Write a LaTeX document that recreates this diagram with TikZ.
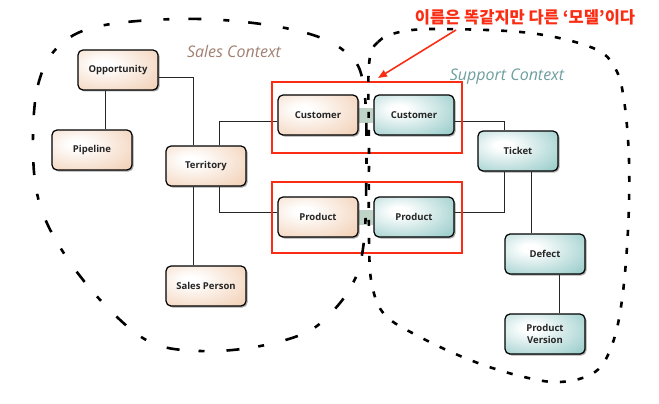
\documentclass[tikz,border=0pt]{standalone}
\usepackage{fontspec}
\setmainfont{Open Sans}
\newfontfamily\krfont{Noto Sans CJK KR}
\usetikzlibrary{shadows,backgrounds,arrows.meta}
\definecolor{salescol}{RGB}{243,212,188}
\definecolor{salesdark}{RGB}{232,188,156}
\definecolor{supcol}{RGB}{160,208,206}
\definecolor{supdark}{RGB}{115,180,178}
\definecolor{annred}{RGB}{250,45,20}
\definecolor{salestxt}{RGB}{160,128,112}
\definecolor{suptxt}{RGB}{110,158,158}
\definecolor{barcol}{RGB}{192,211,199}
\pgfdeclareradialshading{salesshade}{\pgfpoint{-10bp}{8bp}}{color(0bp)=(white); color(5bp)=(white); color(38bp)=(salescol); color(62bp)=(salesdark); color(100bp)=(salesdark)}
\pgfdeclareradialshading{supshade}{\pgfpoint{-10bp}{8bp}}{color(0bp)=(white); color(5bp)=(white); color(38bp)=(supcol); color(62bp)=(supdark); color(100bp)=(supdark)}
\tikzset{
  entity/.style={rectangle, rounded corners=5pt, draw=black, line width=1.2pt,
    minimum width=80pt, minimum height=40pt, inner sep=2pt, align=center,
    font=\fontsize{9.5}{11.5}\selectfont\bfseries, text=black!85,
    drop shadow={shadow xshift=1.5pt, shadow yshift=-1.5pt, fill=black, opacity=0.35}},
  salesbox/.style={entity, shading=salesshade},
  supbox/.style={entity, shading=supshade},
  conn/.style={draw=black!85, line width=0.9pt},
  redframe/.style={draw=annred, line width=1.6pt},
  salesbound/.style={draw=black, line width=2.6pt, dash pattern=on 13pt off 22pt on 6pt off 19pt},
  supbound/.style={draw=black, line width=2.6pt, dash pattern=on 6pt off 12pt},
  ctxlabel/.style={font=\fontsize{16}{19}\selectfont\itshape}
}
\begin{document}
\begin{tikzpicture}[x=1pt,y=-1pt]
\useasboundingbox (0,0) rectangle (659,404);
% nodes
\node[salesbox] (opp) at (118,70) {Opportunity};
\node[salesbox] (pip) at (92,150) {Pipeline};
\node[salesbox] (ter) at (206,166) {Territory};
\node[salesbox] (sp) at (206,286) {Sales Person};
\node[salesbox] (custS) at (318,115) {Customer};
\node[salesbox] (prodS) at (318,217) {Product};
\node[supbox] (custT) at (414,115) {Customer};
\node[supbox] (prodT) at (414,217) {Product};
\node[supbox] (tic) at (518,151) {Ticket};
\node[supbox] (def) at (545,254) {Defect};
\node[supbox] (pv) at (545,334) {Product\\Version};
% bars
\begin{scope}[on background layer]
\fill[barcol] ([yshift=7pt]custS.east) rectangle ([yshift=-8pt]custT.west);
\fill[barcol] ([yshift=7pt]prodS.east) rectangle ([yshift=-8pt]prodT.west);
\end{scope}
% connectors
\draw[conn] ([xshift=-13pt]opp.south) -- ([xshift=13pt]pip.north);
\draw[conn] ([yshift=-7pt]opp.east) -| ([xshift=-13pt]ter.north);
\draw[conn] ([xshift=13pt]ter.north) |- ([yshift=-6pt]custS.west);
\draw[conn] ([xshift=13pt]ter.south) |- ([yshift=5pt]prodS.west);
\draw[conn] ([xshift=-13pt]ter.south) -- ([xshift=-13pt]sp.north);
\draw[conn] ([yshift=-6pt]custT.east) -| ([xshift=-14pt]tic.north);
\draw[conn] ([yshift=5pt]prodT.east) -| ([xshift=-14pt]tic.south);
\draw[conn] ([xshift=13pt]tic.south) -- ([xshift=-14pt]def.north);
\draw[conn] ([xshift=14pt]def.south) -- ([xshift=14pt]pv.north);
% red frames
\draw[redframe] (272,82) rectangle (462,153);
\draw[redframe] (272,182) rectangle (462,253);
% boundaries
\draw[salesbound] plot[smooth cycle, tension=0.6] coordinates {(33,150) (38,85) (60,45) (105,25) (200,19) (290,29) (343,50) (364,88) (366,200) (362,255) (352,285) (332,312) (305,333) (255,347) (200,351) (150,342) (105,305) (65,255) (40,205)};
\draw[supbound] plot[smooth cycle, tension=0.6] coordinates {(369,65) (378,42) (400,32) (440,29) (530,33) (593,48) (615,68) (624,100) (629,160) (628,230) (622,300) (612,345) (595,372) (560,382) (520,376) (470,360) (420,337) (385,315) (372,285) (369,240) (369,150)};
% labels
\node[ctxlabel, text=salestxt] (salesL) at (234,52) {Sales Context};
\node[ctxlabel, text=suptxt] (supL) at (507,77) {Support Context};
\node[font=\krfont\bfseries\fontsize{16.5}{19}\selectfont, text=annred] (ann) at (525,17) {이름은 똑같지만 다른 ‘모델’이다};
\coordinate (arrS) at (456,30);
\coordinate (arrE) at (378,78);
\draw[annred, line width=1.6pt, -{Triangle[length=9pt,width=7pt]}] (arrS) -- (arrE);
\end{tikzpicture}
\end{document}
